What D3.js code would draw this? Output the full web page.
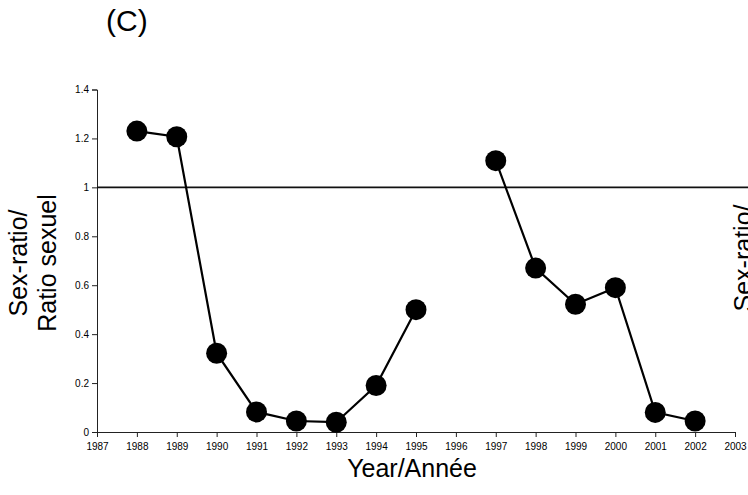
<!DOCTYPE html>
<html>
<head>
<meta charset="utf-8">
<script src="https://cdn.jsdelivr.net/npm/d3@7"></script>
<style>
  body { margin: 0; background: #fff; }
  svg { display: block; font-family: "Liberation Sans", Arial, sans-serif; }
</style>
</head>
<body>
<script>
// data
let years = [1988, 1989, 1990, 1991, 1992, 1993, 1994, 1995, 1997, 1998, 1999, 2000, 2001, 2002];
let ratios = [1.23, 1.207, 0.322, 0.082, 0.045, 0.04, 0.19, 0.50, 1.109, 0.67, 0.522, 0.59, 0.08, 0.045];
let xTicks = d3.range(1987, 2004);
let yTicks = [0, 0.2, 0.4, 0.6, 0.8, 1, 1.2, 1.4];
let refValue = 1;

let svgWidth = 748,
  svgHeight = 495;

let svg = d3.select("body")
  .append("svg")
  .attr("width", svgWidth)
  .attr("height", svgHeight);

let x = d3.scaleLinear().domain([1987, 2003]).range([97, 735]);
let y = d3.scaleLinear().domain([0, 1.4]).range([432, 89.5]);

// axes
let xAxis = svg.append("g")
  .attr("transform", `translate(0,${y(0)})`)
  .call(d3.axisBottom(x).tickValues(xTicks).tickFormat(d3.format("d")).tickSizeOuter(0).tickSize(5));
let yAxis = svg.append("g")
  .attr("transform", `translate(${x(1987)},0)`)
  .call(d3.axisLeft(y).tickValues(yTicks).tickFormat(d => d).tickSizeOuter(0).tickSize(5));

[xAxis, yAxis].forEach(a => {
  a.select(".domain").attr("stroke", "#222").attr("stroke-width", 1);
  a.selectAll(".tick line").attr("stroke", "#222");
  a.selectAll("text").attr("fill", "#000").style("font-size", "10px")
    .style("font-family", "'Liberation Sans', Arial, sans-serif");
});
xAxis.selectAll("text").attr("dy", "0.9em").attr("y", 9);
yAxis.selectAll("text").attr("x", -8);

// reference line at 1
svg.append("line")
  .attr("x1", x(1987)).attr("x2", svgWidth)
  .attr("y1", y(refValue)).attr("y2", y(refValue))
  .attr("stroke", "#111").attr("stroke-width", 1.6);

// two separate runs (no data in 1996)
let pts = years.map((yr, i) => ({ yr: yr, v: ratios[i] }));
let line = d3.line()
  .x(d => x(d.yr))
  .y(d => y(d.v));
let runs = [pts.filter(d => d.yr <= 1995), pts.filter(d => d.yr >= 1997)];
svg.selectAll("path.series")
  .data(runs)
  .enter()
  .append("path")
  .attr("class", "series")
  .attr("d", line)
  .attr("fill", "none")
  .attr("stroke", "#000")
  .attr("stroke-width", 2.2);

svg.selectAll("circle")
  .data(pts)
  .enter()
  .append("circle")
  .attr("cx", d => x(d.yr))
  .attr("cy", d => y(d.v))
  .attr("r", 10.5)
  .attr("fill", "#000");

// labels
svg.append("text")
  .attr("x", 106).attr("y", 31)
  .style("font-size", "30px")
  .text("(C)");

svg.append("text")
  .attr("x", 412).attr("y", 477)
  .attr("text-anchor", "middle")
  .style("font-size", "25px")
  .text("Year/Année");

let yLab = svg.append("text")
  .attr("transform", "translate(27,263) rotate(-90)")
  .attr("text-anchor", "middle")
  .style("font-size", "25px");
yLab.append("tspan").attr("x", 0).attr("dy", 0).text("Sex-ratio/");
yLab.append("tspan").attr("x", 0).attr("dy", 29).text("Ratio sexuel");

// right-hand label, cut off by the frame as in the source figure
svg.append("text")
  .attr("transform", "translate(752,258) rotate(-90)")
  .attr("text-anchor", "middle")
  .style("font-size", "25px")
  .text("Sex-ratio/");
</script>
</body>
</html>
